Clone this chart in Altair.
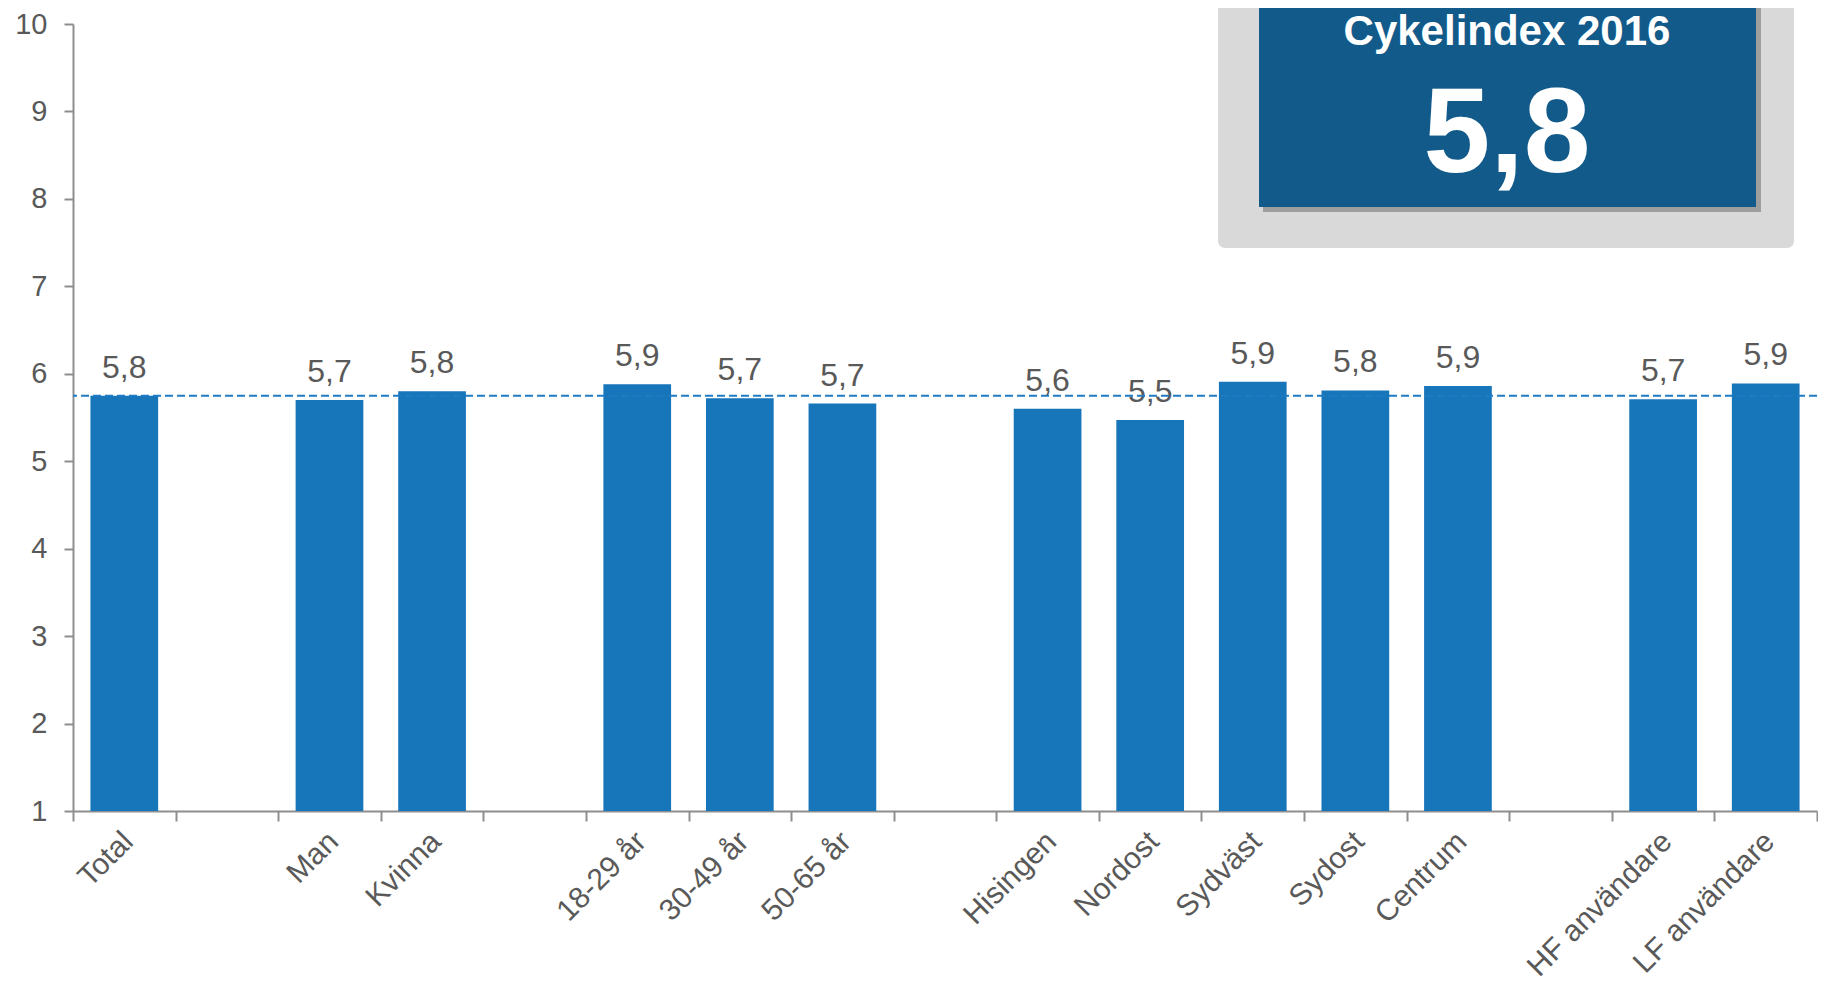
import altair as alt
import pandas as pd

# ---- data ----
categories = ["Total", " ", "Man", "Kvinna", "  ", "18-29 år", "30-49 år", "50-65 år", "   ",
              "Hisingen", "Nordost", "Sydväst", "Sydost", "Centrum", "    ",
              "HF användare", "LF användare"]
bar_categories = ["Total", "Man", "Kvinna", "18-29 år", "30-49 år", "50-65 år",
                  "Hisingen", "Nordost", "Sydväst", "Sydost", "Centrum",
                  "HF användare", "LF användare"]
bar_values = [5.75, 5.70, 5.80, 5.88, 5.72, 5.66, 5.60, 5.47, 5.91, 5.81, 5.86, 5.71, 5.89]
index_value = 5.75
index_title = "Cykelindex 2016"
y_ticks = [1, 2, 3, 4, 5, 6, 7, 8, 9, 10]

W, H = 1744, 787
TOP = 16
BAR = "#1775BA"
GREY_TXT = "#595959"
AXIS = "#8E8E8E"
FONT = "Liberation Sans"

df = pd.DataFrame({"cat": bar_categories, "value": bar_values})
df["base"] = 1
df["label"] = [f"{v:.1f}".replace(".", ",") for v in bar_values]
idx = pd.DataFrame({"value": [index_value], "title": [index_title],
                    "label": [f"{index_value:.1f}".replace(".", ",")]})
one = pd.DataFrame({"k": [0]})

xenc = alt.X("cat:N", sort=categories,
             scale=alt.Scale(domain=categories, paddingInner=0, paddingOuter=0),
             axis=alt.Axis(title=None, labelAngle=-45, labelAlign="right", labelBaseline="top",
                           labelFontSize=30, labelColor=GREY_TXT, labelFont=FONT,
                           labelPadding=5, labelOffset=-7, labelLimit=0, tickBand="extent",
                           tickSize=10, tickWidth=2, tickColor=AXIS,
                           domainColor=AXIS, domainWidth=2, grid=False, labelOverlap=False))
yscale = alt.Scale(domain=[1, 10], nice=False, zero=False)
yenc = alt.Y("value:Q", scale=yscale,
             axis=alt.Axis(title=None, values=y_ticks, format="d", labelFontSize=29,
                           labelColor=GREY_TXT, labelFont=FONT, labelPadding=17, tickSize=9,
                           tickWidth=2, tickColor=AXIS, domainColor=AXIS, domainWidth=2,
                           grid=False))

bars = alt.Chart(df).mark_bar(color=BAR, width=alt.RelativeBandSize(0.66)).encode(
    x=xenc, y=yenc, y2="base:Q")
labels = alt.Chart(df).mark_text(baseline="alphabetic", dy=-18, fontSize=32,
                                 color=GREY_TXT, font=FONT).encode(
    x=alt.X("cat:N", sort=categories), y="value:Q", text="label:N")
rule = alt.Chart(idx).mark_rule(color="#1F7BC4", strokeDash=[8, 4], strokeWidth=2).encode(
    y="value:Q")

off = 8 + TOP  # page y of the plot's top edge
grey_box = alt.Chart(one).mark_rect(color="#D9D9D9", cornerRadius=7).encode(
    x=alt.value(1145), x2=alt.value(1721), y=alt.value(-off), y2=alt.value(248 - off))
shadow = alt.Chart(one).mark_rect(color="#6E6E6E", opacity=0.55).encode(
    x=alt.value(1190), x2=alt.value(1688), y=alt.value(-off), y2=alt.value(212 - off))
blue_box = alt.Chart(one).mark_rect(color="#115A8A").encode(
    x=alt.value(1186), x2=alt.value(1683), y=alt.value(-off), y2=alt.value(207 - off))
title_txt = alt.Chart(idx).mark_text(color="white", font=FONT, fontWeight="bold", fontSize=42,
                                     align="center", baseline="alphabetic").encode(
    x=alt.value(1434), y=alt.value(45 - off), text="title:N")
big_txt = alt.Chart(idx).mark_text(color="white", font=FONT, fontWeight="bold", fontSize=120,
                                   align="center", baseline="alphabetic").encode(
    x=alt.value(1434), y=alt.value(172 - off), text="label:N")

chart = alt.layer(bars, labels, rule, grey_box, shadow, blue_box, title_txt, big_txt).properties(
    width=W, height=H, autosize="none", background="white",
    padding={"left": 65, "top": TOP, "right": 1, "bottom": 171},
).configure_view(stroke=None)

chart.save("out.html", embed_options={"renderer": "svg", "actions": False})
